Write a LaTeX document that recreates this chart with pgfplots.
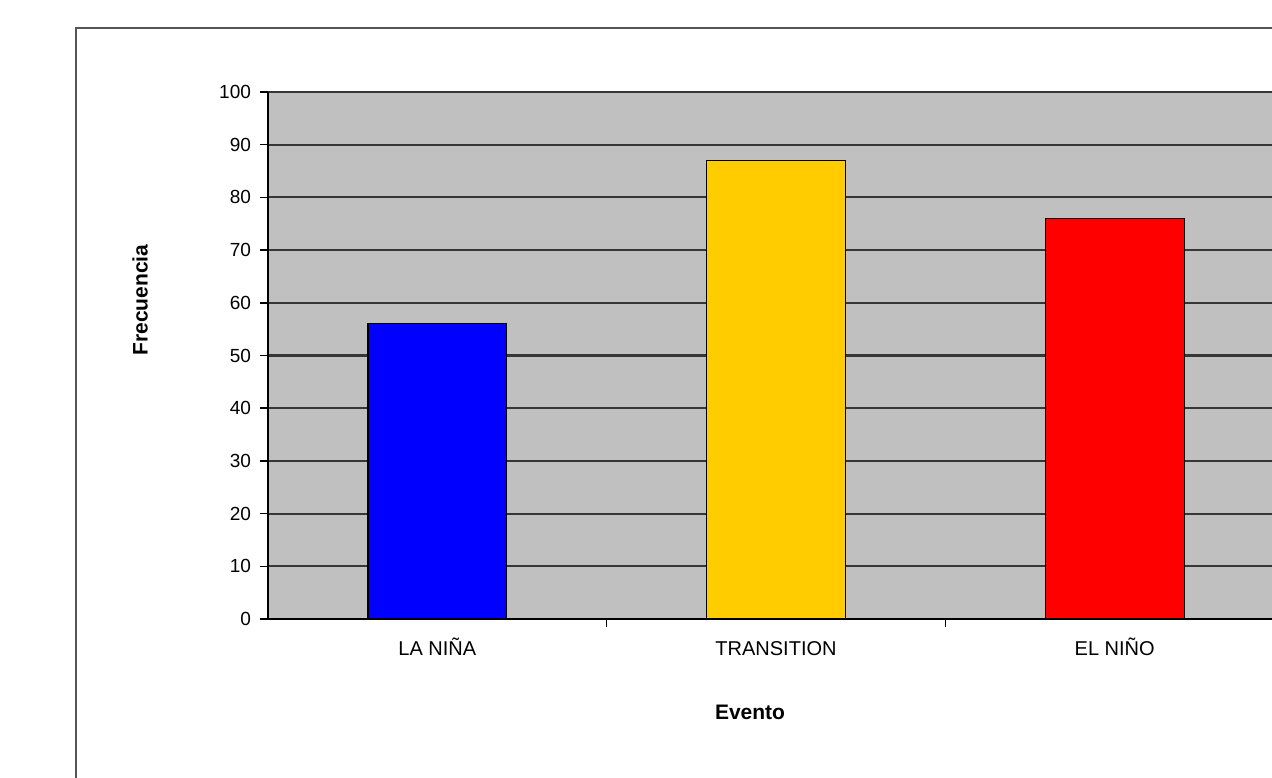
\documentclass[border=0pt]{standalone}
\usepackage{pgfplots}
\pgfplotsset{compat=1.18}
\usepackage{fontspec}
\setmainfont{Liberation Sans}

\definecolor{plotgray}{HTML}{C0C0C0}
\definecolor{gridline}{HTML}{363636}
\definecolor{ninaBlue}{HTML}{0000FF}
\definecolor{transGold}{HTML}{FFCC00}
\definecolor{ninoRed}{HTML}{FF0000}
\definecolor{framegray}{HTML}{555555}

\begin{document}
\begin{tikzpicture}
  % page: 1272 x 777 units of 0.5pt
  \clip (0,0) rectangle (636pt,388.5pt);
  \fill[white] (0,0) rectangle (636pt,388.5pt);
  % chart area frame (extends past the page on the right and bottom)
  \draw[framegray, line width=1.3pt] (700pt,374.5pt) -- (38pt,374.5pt) -- (38pt,-20pt);

  \begin{axis}[
    at={(134pt,79pt)}, anchor=south west,
    width=508pt, height=263.5pt, scale only axis,
    axis background/.style={fill=plotgray},
    xmin=-0.5, xmax=2.5,
    ymin=0, ymax=100,
    ytick={0,10,...,100},
    xtick={0.5,1.5},
    xticklabels={},
    extra x ticks={0,1,2},
    extra x tick labels={LA NI\~NA,TRANSITION,EL NI\~NO},
    extra x tick style={major tick length=0pt,
      tick label style={yshift=-4.5pt, text height=1em, text depth=0.2em}},
    axis lines*=left,
    axis line style={black, line width=1pt},
    tick align=outside,
    major tick length=4pt,
    tick style={black, line width=0.8pt},
    ymajorgrids,
    grid style={gridline, line width=1.1pt},
    /pgf/number format/assume math mode=true,
    yticklabel style={font=\fontsize{9.5}{11}\selectfont, xshift=-1pt},
    xticklabel style={font=\fontsize{10}{12}\selectfont},
    clip=false,
  ]
    \addplot[ybar, bar width=0.41, bar shift=0pt, fill=ninaBlue, draw=black, line width=0.6pt]
      coordinates {(0,56)};
    \addplot[ybar, bar width=0.41, bar shift=0pt, fill=transGold, draw=black, line width=0.6pt]
      coordinates {(1,87)};
    \addplot[ybar, bar width=0.41, bar shift=0pt, fill=ninoRed, draw=black, line width=0.6pt]
      coordinates {(2,76)};
  \end{axis}

  % axis titles
  \node[font=\bfseries\fontsize{10.5}{12}\selectfont, rotate=90] at (70pt,238.5pt) {Frecuencia};
  \node[font=\bfseries\fontsize{10.5}{12}\selectfont] at (375pt,32.5pt) {Evento};
\end{tikzpicture}
\end{document}
